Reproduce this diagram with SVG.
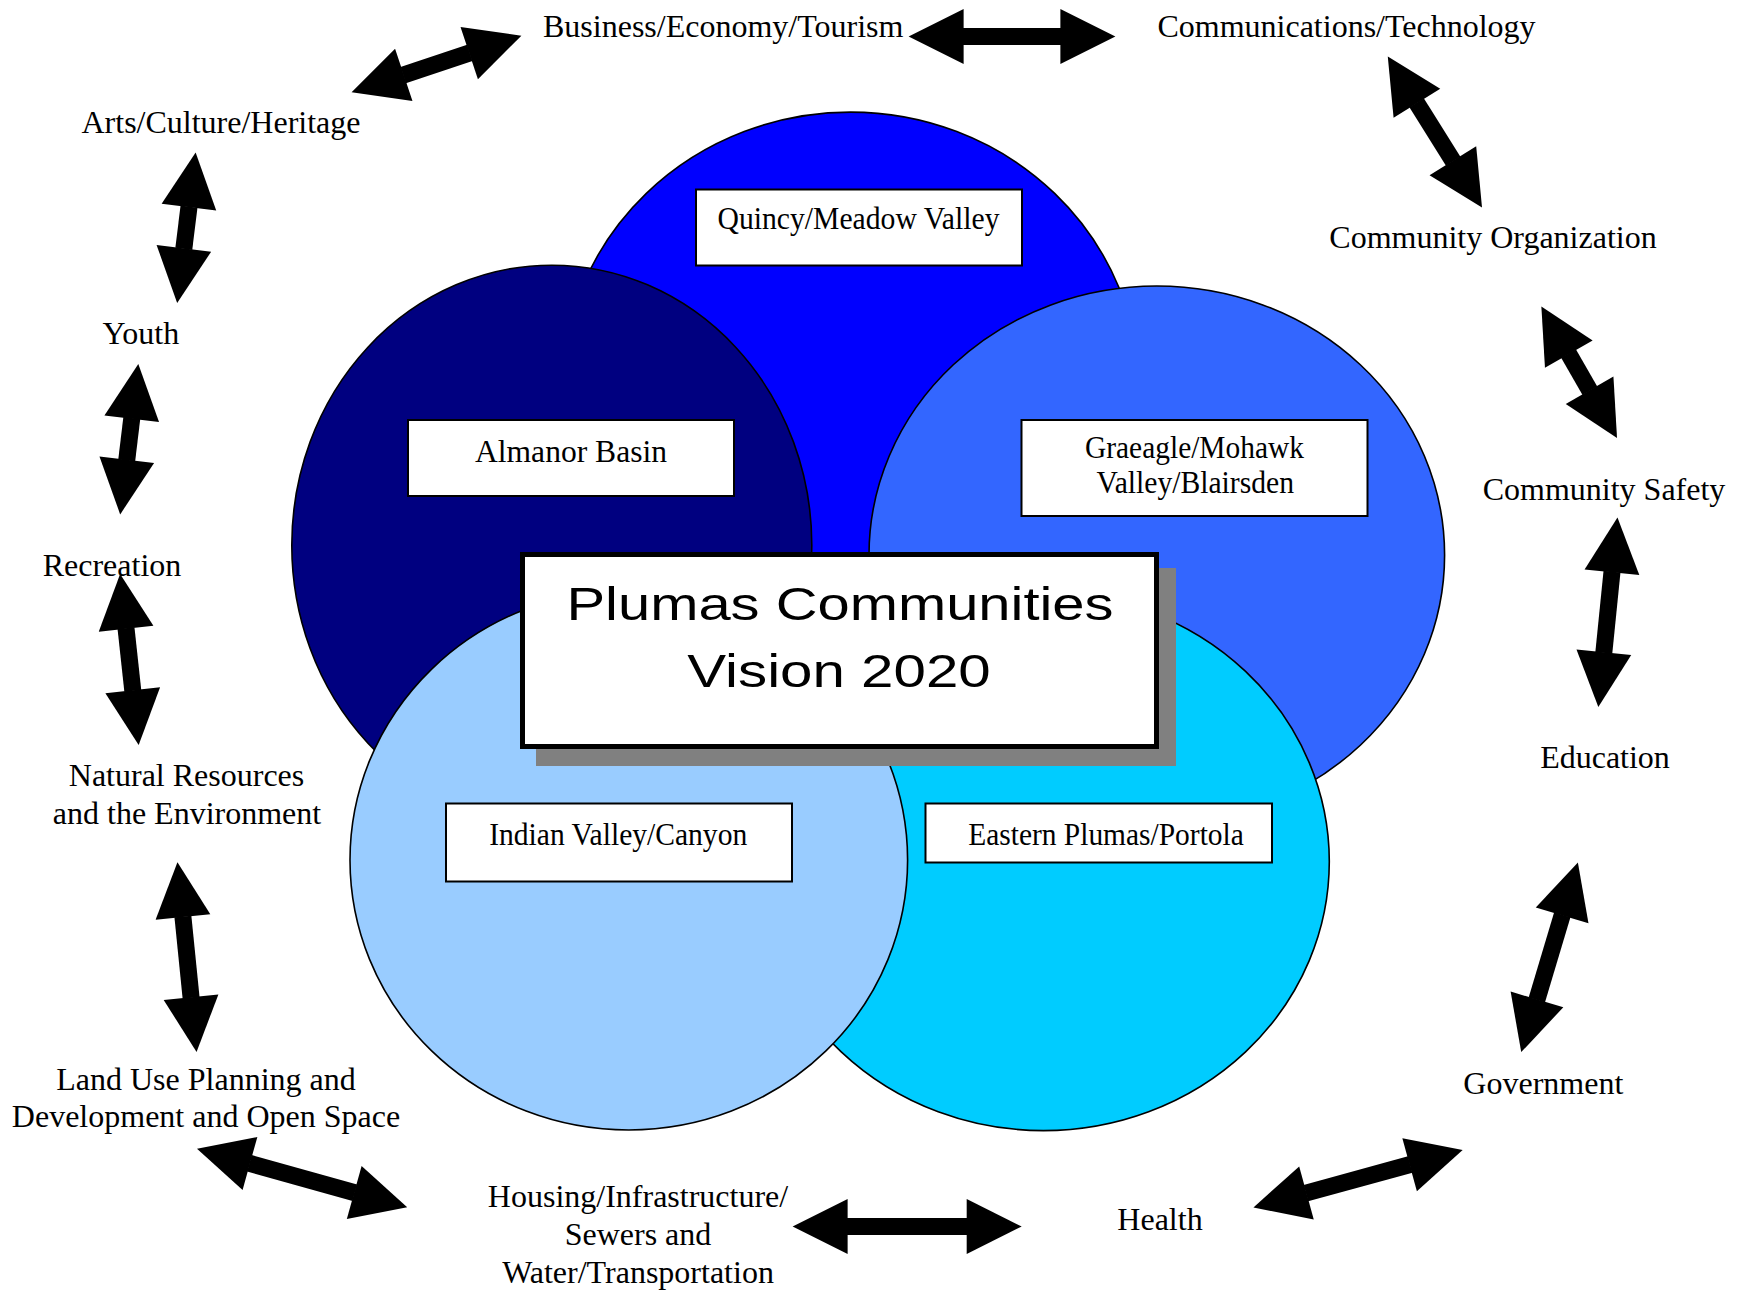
<svg xmlns="http://www.w3.org/2000/svg" width="1741" height="1291" viewBox="0 0 1741 1291">
<style>
.c{stroke:#000;stroke-width:1.6}
.lb{fill:#fff;stroke:#000;stroke-width:2}
.t{font-family:"Liberation Serif","Times New Roman",serif;font-size:32px;fill:#000;text-anchor:middle}
.tt{font-family:"Liberation Sans",Arial,sans-serif;font-size:46px;fill:#000;text-anchor:middle}
.ar{stroke:#000;stroke-width:17;fill:none;marker-start:url(#h);marker-end:url(#h)}
</style>
<defs>
<marker id="h" markerUnits="userSpaceOnUse" viewBox="0 -28 56 56" markerWidth="56" markerHeight="56" refX="0.6" refY="0" orient="auto-start-reverse" overflow="visible">
<path d="M0,-27.5 L55,0 L0,27.5 Z" fill="#000"/>
</marker>
</defs>
<rect width="1741" height="1291" fill="#fff"/>
<g id="quincy"><ellipse class="c" cx="850.5" cy="389.7" rx="288.7" ry="277.6" fill="#0000FF"/></g>
<g id="almanor"><ellipse class="c" cx="551.8" cy="545.2" rx="260" ry="280" fill="#000080"/></g>
<g id="graeagle"><ellipse class="c" cx="1156.8" cy="555" rx="287.8" ry="269" fill="#3366FF"/></g>
<g id="eastern"><ellipse class="c" cx="1043.4" cy="861.6" rx="285.9" ry="269" fill="#00CCFF"/></g>
<g id="indian"><ellipse class="c" cx="628.8" cy="860" rx="278.8" ry="270" fill="#99CCFF"/></g>
<g id="quincy-label"><rect class="lb" x="696" y="189.5" width="326" height="76"/><text class="t" x="858.5" y="228.6" textLength="282" lengthAdjust="spacingAndGlyphs">Quincy/Meadow Valley</text></g>
<g id="almanor-label"><rect class="lb" x="408" y="420" width="326" height="76"/><text class="t" x="571" y="461.6" textLength="192" lengthAdjust="spacingAndGlyphs">Almanor Basin</text></g>
<g id="graeagle-label"><rect class="lb" x="1021.5" y="420" width="346" height="96"/><text class="t" x="1194.5" y="458" textLength="219" lengthAdjust="spacingAndGlyphs">Graeagle/Mohawk</text><text class="t" x="1195.3" y="493" textLength="197.4" lengthAdjust="spacingAndGlyphs">Valley/Blairsden</text></g>
<g id="indian-label"><rect class="lb" x="446" y="803.5" width="346" height="78"/><text class="t" x="618.2" y="845" textLength="258" lengthAdjust="spacingAndGlyphs">Indian Valley/Canyon</text></g>
<g id="eastern-label"><rect class="lb" x="925.5" y="803.5" width="346.5" height="59"/><text class="t" x="1106" y="845" textLength="275.6" lengthAdjust="spacingAndGlyphs">Eastern Plumas/Portola</text></g>
<g id="title">
<rect x="536" y="568" width="640" height="198" fill="#808080"/>
<rect x="522.5" y="554.5" width="634" height="192" fill="#fff" stroke="#000" stroke-width="5"/>
<text class="tt" x="840" y="620" textLength="547" lengthAdjust="spacingAndGlyphs">Plumas Communities</text>
<text class="tt" x="839" y="687" textLength="303.5" lengthAdjust="spacingAndGlyphs">Vision 2020</text>
</g>
<g id="arts"><text class="t" x="221" y="133">Arts/Culture/Heritage</text></g>
<g id="business"><text class="t" x="723.2" y="37">Business/Economy/Tourism</text></g>
<g id="communications"><text class="t" x="1346.5" y="37">Communications/Technology</text></g>
<g id="community-organization"><text class="t" x="1493" y="248.3">Community Organization</text></g>
<g id="community-safety"><text class="t" x="1604" y="499.5">Community Safety</text></g>
<g id="education"><text class="t" x="1605" y="768">Education</text></g>
<g id="government"><text class="t" x="1543.3" y="1093.7">Government</text></g>
<g id="health"><text class="t" x="1160" y="1229.5">Health</text></g>
<g id="housing"><text class="t" x="638" y="1207">Housing/Infrastructure/</text><text class="t" x="638" y="1245">Sewers and</text><text class="t" x="638" y="1283">Water/Transportation</text></g>
<g id="land-use"><text class="t" x="206" y="1089.6">Land Use Planning and</text><text class="t" x="206" y="1127">Development and Open Space</text></g>
<g id="natural-resources"><text class="t" x="186.5" y="785.8">Natural Resources</text><text class="t" x="187" y="824">and the Environment</text></g>
<g id="recreation"><text class="t" x="112" y="575.5">Recreation</text></g>
<g id="youth"><text class="t" x="140.8" y="343.8">Youth</text></g>
<g id="connectors">
<line class="ar" x1="403.2" y1="75.1" x2="469.8" y2="52.9"/>
<line class="ar" x1="963" y1="36.5" x2="1061" y2="36.5"/>
<line class="ar" x1="1416.6" y1="102.7" x2="1453.2" y2="161.3"/>
<line class="ar" x1="1568.5" y1="353.6" x2="1589.9" y2="390.8"/>
<line class="ar" x1="1612" y1="571.7" x2="1603.8" y2="652.8"/>
<line class="ar" x1="1562.3" y1="914.7" x2="1536.8" y2="1000"/>
<line class="ar" x1="1305.9" y1="1193.1" x2="1410.2" y2="1164.5"/>
<line class="ar" x1="847" y1="1226.5" x2="967.3" y2="1226.5"/>
<line class="ar" x1="249.4" y1="1163.3" x2="354.8" y2="1192.7"/>
<line class="ar" x1="182.9" y1="916.5" x2="191.1" y2="997.8"/>
<line class="ar" x1="126" y1="628.2" x2="132.8" y2="690.8"/>
<line class="ar" x1="131.8" y1="418.1" x2="126.7" y2="460.4"/>
<line class="ar" x1="189" y1="206.6" x2="183.8" y2="248.9"/>
</g>
</svg>
